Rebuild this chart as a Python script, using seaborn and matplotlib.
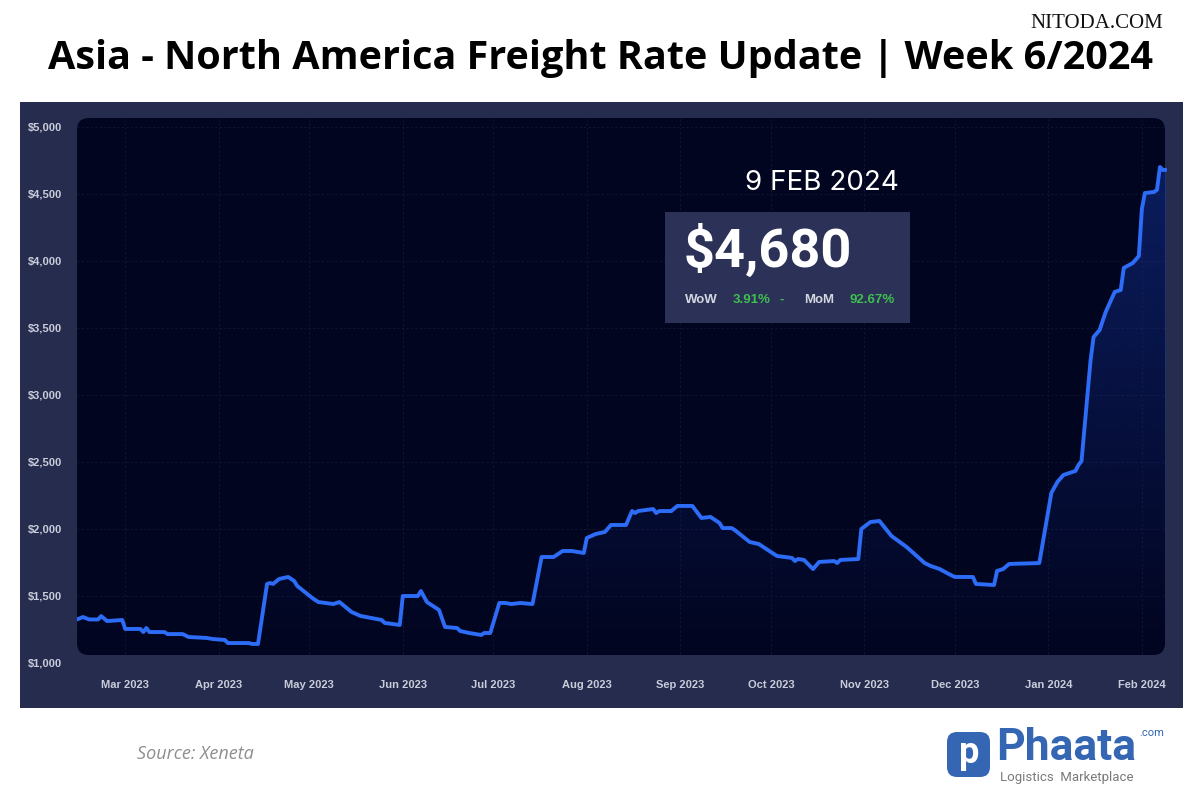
import numpy as np
import pandas as pd
import matplotlib.pyplot as plt
import matplotlib.dates as mdates
from matplotlib.colors import to_rgb
from matplotlib.patches import FancyBboxPatch, Rectangle
import seaborn as sns

# --- datos (Xeneta, Asia -> Norteamerica) ---
dates = [
    "2023-02-13", "2023-02-15", "2023-02-17", "2023-02-20", "2023-02-21", "2023-02-23",
    "2023-02-26", "2023-02-28", "2023-03-01", "2023-03-06", "2023-03-07", "2023-03-08",
    "2023-03-09", "2023-03-14", "2023-03-15", "2023-03-20", "2023-03-22", "2023-03-28",
    "2023-03-30", "2023-04-03", "2023-04-04", "2023-04-11", "2023-04-12", "2023-04-14",
    "2023-04-17", "2023-04-18", "2023-04-19", "2023-04-21", "2023-04-24", "2023-04-26",
    "2023-04-27", "2023-05-02", "2023-05-04", "2023-05-09", "2023-05-11", "2023-05-15",
    "2023-05-18", "2023-05-25", "2023-05-26", "2023-05-31", "2023-06-01", "2023-06-06",
    "2023-06-07", "2023-06-09", "2023-06-13", "2023-06-15", "2023-06-19", "2023-06-20",
    "2023-06-23", "2023-06-27", "2023-06-28", "2023-06-30", "2023-07-03", "2023-07-05",
    "2023-07-07", "2023-07-10", "2023-07-14", "2023-07-17", "2023-07-21", "2023-07-24",
    "2023-07-27", "2023-07-31", "2023-08-01", "2023-08-04", "2023-08-07", "2023-08-09",
    "2023-08-14", "2023-08-16", "2023-08-17", "2023-08-18", "2023-08-23", "2023-08-24",
    "2023-08-25", "2023-08-29", "2023-08-31", "2023-09-05", "2023-09-08", "2023-09-11",
    "2023-09-14", "2023-09-15", "2023-09-18", "2023-09-19", "2023-09-24", "2023-09-27",
    "2023-10-03", "2023-10-08", "2023-10-09", "2023-10-10", "2023-10-12", "2023-10-15",
    "2023-10-17", "2023-10-22", "2023-10-23", "2023-10-24", "2023-10-30", "2023-10-31",
    "2023-11-03", "2023-11-06", "2023-11-10", "2023-11-15", "2023-11-21", "2023-11-23",
    "2023-11-26", "2023-11-29", "2023-12-01", "2023-12-07", "2023-12-08", "2023-12-14",
    "2023-12-15", "2023-12-17", "2023-12-19", "2023-12-29", "2024-01-02", "2024-01-04",
    "2024-01-06", "2024-01-10", "2024-01-11", "2024-01-12", "2024-01-15", "2024-01-16",
    "2024-01-18", "2024-01-20", "2024-01-23", "2024-01-25", "2024-01-26", "2024-01-29",
    "2024-01-31", "2024-02-01", "2024-02-02", "2024-02-05", "2024-02-06", "2024-02-07",
    "2024-02-08", "2024-02-09",
]
rates = [
    1325, 1343, 1325, 1325, 1350, 1313,
    1318, 1321, 1254, 1254, 1231, 1261,
    1231, 1231, 1216, 1216, 1194, 1187,
    1179, 1172, 1149, 1149, 1142, 1142,
    1590, 1597, 1590, 1627, 1642, 1612,
    1575, 1485, 1455, 1440, 1455, 1381,
    1351, 1321, 1299, 1284, 1500, 1500,
    1537, 1455, 1396, 1269, 1261, 1239,
    1224, 1209, 1224, 1224, 1448, 1448,
    1440, 1448, 1440, 1791, 1791, 1836,
    1836, 1821, 1933, 1963, 1978, 2030,
    2030, 2134, 2119, 2134, 2149, 2119,
    2134, 2134, 2172, 2172, 2082, 2090,
    2045, 2007, 2007, 1993, 1903, 1888,
    1799, 1784, 1761, 1776, 1769, 1701,
    1754, 1761, 1746, 1769, 1776, 2000,
    2052, 2060, 1948, 1866, 1746, 1724,
    1701, 1664, 1642, 1642, 1590, 1582,
    1687, 1701, 1739, 1746, 2269, 2351,
    2403, 2433, 2478, 2507, 3261, 3433,
    3485, 3619, 3769, 3784, 3948, 3985,
    4037, 4388, 4507, 4515, 4530, 4701,
    4679, 4680,
]
month_ticks = pd.date_range("2023-03-01", "2024-02-01", freq="MS")
month_labels = ["Mar 2023", "Apr 2023", "May 2023", "Jun 2023", "Jul 2023", "Aug 2023",
                "Sep 2023", "Oct 2023", "Nov 2023", "Dec 2023", "Jan 2024", "Feb 2024"]
y_ticks = [1000, 1500, 2000, 2500, 3000, 3500, 4000, 4500, 5000]
y_labels = ["$1,000", "$1,500", "$2,000", "$2,500", "$3,000", "$3,500", "$4,000", "$4,500", "$5,000"]

titulo = "Asia - North America Freight Rate Update | Week 6/2024"
fecha_ultima = "9 FEB 2024"
valor_ultimo = "$4,680"
wow = "3.91%"
mom = "92.67%"

df = pd.DataFrame({"date": pd.to_datetime(dates), "rate": rates})

sns.set_theme(style="dark")
plt.rcParams['font.family'] = ['Liberation Sans', 'DejaVu Sans']

W, H = 1200, 800
fig = plt.figure(figsize=(12, 8), dpi=100)
fig.patch.set_facecolor("white")


def fx(px):
    return px / W


def fy(py):
    return 1 - py / H


# panel exterior y area interior redondeada
panel = Rectangle((fx(20), fy(708)), 1163 / W, 606 / H, transform=fig.transFigure,
                  facecolor="#262c4e", edgecolor="none", zorder=-2)
fig.add_artist(panel)
inner = FancyBboxPatch((0.77, 1.45), 10.88, 5.37, boxstyle="round,pad=0,rounding_size=0.12",
                       transform=fig.dpi_scale_trans, facecolor="#020520", edgecolor="none", zorder=-1)
fig.add_artist(inner)

ax = fig.add_axes([fx(77), fy(663), 1090 / W, 545 / H])
ax.set_facecolor("none")

x0, x1 = pd.Timestamp("2023-02-13"), pd.Timestamp("2024-02-09 08:00")
y_bot, y_top = 1060, 5067

# relleno con degradado bajo la linea
fill = ax.fill_between(df["date"], df["rate"], y_bot, color="none", linewidth=0)
rgba = np.zeros((256, 1, 4))
rgba[..., :3] = to_rgb("#1a44c4")
rgba[..., 3] = np.linspace(0.0, 0.42, 256)[:, None]
im = ax.imshow(rgba, extent=[mdates.date2num(x0), mdates.date2num(x1), y_bot, y_top],
               origin="lower", aspect="auto", zorder=1, interpolation="bilinear")
im.set_clip_path(fill.get_paths()[0], ax.transData)

sns.lineplot(data=df, x="date", y="rate", ax=ax, color="#2c6cf7", linewidth=2.8, zorder=3)
for ln in ax.lines:
    ln.set_solid_capstyle("round")
    ln.set_solid_joinstyle("round")

ax.set_xlim(x0, x1)
ax.set_ylim(1000, y_top)
ax.set_xticks(month_ticks)
ax.set_xticklabels(month_labels, fontweight="bold")
ax.set_yticks(y_ticks)
ax.set_yticklabels(y_labels, fontweight="bold")
ax.tick_params(axis="both", length=0, labelsize=8, colors="#c9ccda")
ax.tick_params(axis="x", pad=12)
ax.tick_params(axis="y", pad=11)
ax.set_xlabel("")
ax.set_ylabel("")
for s in ax.spines.values():
    s.set_visible(False)
ax.grid(True, color="#0e1431", linestyle=(0, (2, 2)), linewidth=0.8)
for g in ax.get_xgridlines() + ax.get_ygridlines():
    g.set_clip_path(inner)

# titulo y marca de agua
fig.text(0.5, fy(58), titulo, ha="center", va="center", fontsize=28.5, fontweight="bold",
         color="black", family=["Open Sans", "DejaVu Sans"])
fig.text(fx(1097), fy(24), "NITODA.COM", ha="center", va="center", fontsize=15,
         color="#111111", family=["Liberation Serif", "DejaVu Serif"])

# recuadro con el ultimo valor
fig.text(fx(822), fy(183), fecha_ultima, ha="center", va="center", fontsize=20,
         color="white", family=["Inter", "DejaVu Sans"])
caja = Rectangle((fx(665), fy(323)), 245 / W, 111 / H, transform=fig.transFigure,
                 facecolor="#2b3157", edgecolor="none", zorder=1)
fig.add_artist(caja)
fig.text(fx(684), fy(251), valor_ultimo, ha="left", va="center", fontsize=39, fontweight="bold",
         color="white", family=["Roboto", "DejaVu Sans"], zorder=3)
fig.text(fx(685), fy(300), "WoW", ha="left", va="center", fontsize=9.5, fontweight="bold",
         color="#d4d6e0", zorder=3)
fig.text(fx(733), fy(300), wow, ha="left", va="center", fontsize=9.5, fontweight="bold",
         color="#3fbf4f", zorder=3)
fig.text(fx(780), fy(300), "-", ha="left", va="center", fontsize=9.5, fontweight="bold",
         color="#3fbf4f", zorder=3)
fig.text(fx(804), fy(300), "MoM", ha="left", va="center", fontsize=9.5, fontweight="bold",
         color="#d4d6e0", zorder=3)
fig.text(fx(849), fy(300), mom, ha="left", va="center", fontsize=9.5, fontweight="bold",
         color="#3fbf4f", zorder=3)

# fuente y logo
fig.text(fx(137), fy(754), "Source: Xeneta", ha="left", va="center", fontsize=13,
         style="italic", color="#8e8e8e", family=["Open Sans", "DejaVu Sans"])
logo = FancyBboxPatch((9.47, 8 - 7.77), 0.43, 0.45, boxstyle="round,pad=0,rounding_size=0.1",
                      transform=fig.dpi_scale_trans, facecolor="#3466b3", edgecolor="none")
fig.add_artist(logo)
fig.text(fx(969), fy(753), "p", ha="center", va="center", fontsize=26, fontweight="bold",
         color="white", family=["Roboto", "DejaVu Sans"])
fig.text(fx(996), fy(760), "Phaata", ha="left", va="baseline", fontsize=32, fontweight="bold",
         color="#3466b3", family=["Roboto", "DejaVu Sans"])
fig.text(fx(1164), fy(733), ".com", ha="right", va="center", fontsize=8,
         color="#3466b3", family=["Roboto", "DejaVu Sans"])
fig.text(fx(1000), fy(778), "Logistics  Marketplace", ha="left", va="center", fontsize=9.5,
         color="#7a7a7a", family=["Roboto", "DejaVu Sans"])

fig.savefig("out.png", dpi=100, facecolor="white")
plt.close(fig)
